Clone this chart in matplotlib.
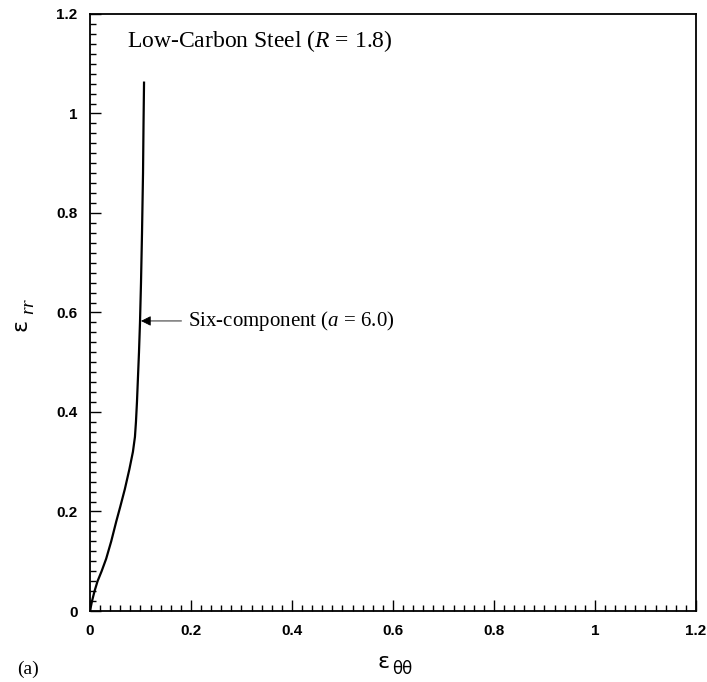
"""
Strain path plot: radial vs hoop strain, low-carbon steel, six-component yield.
"""

import matplotlib

matplotlib.use("Agg")
import matplotlib.pyplot as plt
from matplotlib.ticker import MultipleLocator

eps_tt = [0.0, 0.004, 0.009, 0.015, 0.023, 0.032, 0.042, 0.052, 0.060, 0.069,
          0.078, 0.085, 0.089, 0.091, 0.093, 0.095, 0.097, 0.099, 0.101, 0.103,
          0.105, 0.106, 0.107]
eps_rr = [0.0, 0.02, 0.04, 0.06, 0.08, 0.105, 0.14, 0.18, 0.21, 0.245,
          0.285, 0.32, 0.35, 0.38, 0.42, 0.47, 0.52, 0.58, 0.66, 0.76,
          0.88, 0.98, 1.062]

title_txt = "Low-Carbon Steel ($\\it{R}$ = 1.8)"
note_txt = "Six-component ($\\it{a}$ = 6.0)"
note_xy = (0.101, 0.583)
note_text_xy = (0.195, 0.583)

SERIF = "Liberation Serif"
plt.rcParams["mathtext.fontset"] = "custom"
plt.rcParams["mathtext.rm"] = SERIF
plt.rcParams["mathtext.it"] = SERIF + ":italic"

fig = plt.figure(figsize=(7.07, 6.82), dpi=100)
ax = fig.add_axes([0.1273, 0.1041, 0.8571, 0.8754])

ax.plot(eps_tt, eps_rr, color="black", lw=1.6)

ax.set_xlim(0, 1.2)
ax.set_ylim(0, 1.2)
ax.xaxis.set_major_locator(MultipleLocator(0.2))
ax.yaxis.set_major_locator(MultipleLocator(0.2))
ax.xaxis.set_minor_locator(MultipleLocator(0.02))
ax.yaxis.set_minor_locator(MultipleLocator(0.02))
ax.tick_params(which="both", direction="in", top=False, right=False, width=1.0)
ax.tick_params(which="major", length=8, pad=9)
ax.tick_params(which="minor", length=4.5)
for s in ax.spines.values():
    s.set_linewidth(1.3)

fmt = lambda v: "0" if abs(v) < 1e-9 else ("1" if abs(v - 1) < 1e-9 else f"{v:g}")
ax.set_xticks([0, 0.2, 0.4, 0.6, 0.8, 1.0, 1.2])
ax.set_xticklabels([fmt(v) for v in ax.get_xticks()])
ax.set_yticks([0, 0.2, 0.4, 0.6, 0.8, 1.0, 1.2])
ax.set_yticklabels([fmt(v) for v in ax.get_yticks()])
for lb in ax.get_xticklabels() + ax.get_yticklabels():
    lb.set_family("Liberation Sans")
    lb.set_fontweight("bold")
    lb.set_fontsize(11)

ax.text(0.073, 1.145, title_txt, family=SERIF, fontsize=17, va="center")

ax.annotate(note_txt, xy=note_xy, xytext=note_text_xy, family=SERIF, fontsize=15,
            va="center",
            arrowprops=dict(arrowstyle="-|>", color="black", lw=0.6,
                            mutation_scale=15, shrinkA=3, shrinkB=0))

fig.text(0.029, 0.523, "ε", family="DejaVu Sans", fontsize=16, rotation=90,
         ha="center", va="center")
fig.text(0.041, 0.551, "$\\it{rr}$", fontsize=14, rotation=90,
         ha="center", va="center")
fig.text(0.543, 0.030, "ε", family="DejaVu Sans", fontsize=16, ha="center", va="center")
fig.text(0.569, 0.019, "θθ", family="DejaVu Sans", fontsize=12, ha="center", va="center")

fig.text(0.024, 0.018, "(a)", family=SERIF, fontsize=14, ha="left", va="center")

fig.savefig("out.png", dpi=100)
